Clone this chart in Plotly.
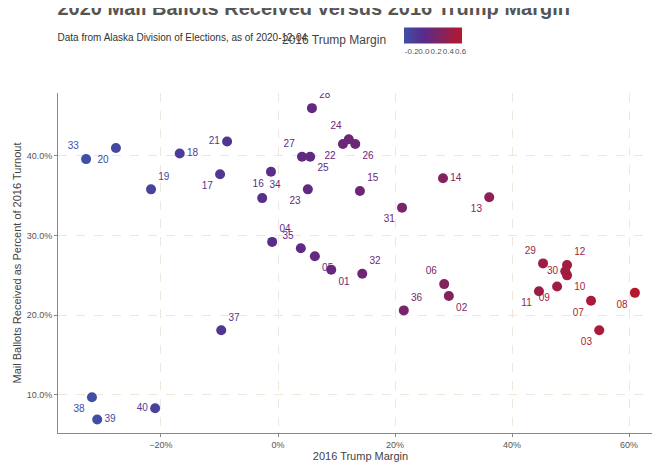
import plotly.graph_objects as go
import plotly.colors as pc

districts = ["28", "24", "22", "26", "27", "25", "21", "18", "20", "33", "17", "16", "19", "34",
             "23", "15", "14", "31", "13", "04", "35", "05", "01", "32", "06", "02", "36", "29",
             "12", "30", "10", "09", "11", "07", "08", "03", "37", "38", "39", "40"]
margin = [0.058, 0.121, 0.111, 0.132, 0.041, 0.055, -0.087, -0.168, -0.277, -0.328, -0.099, -0.012,
          -0.217, -0.027, 0.051, 0.140, 0.282, 0.212, 0.361, -0.010, 0.039, 0.063, 0.091, 0.144,
          0.284, 0.292, 0.215, 0.453, 0.494, 0.491, 0.494, 0.477, 0.446, 0.535, 0.610, 0.549,
          -0.097, -0.318, -0.309, -0.210]
mail_pct = [0.460, 0.421, 0.415, 0.415, 0.399, 0.399, 0.418, 0.403, 0.410, 0.396, 0.377, 0.380,
            0.358, 0.347, 0.358, 0.356, 0.372, 0.335, 0.348, 0.292, 0.284, 0.274, 0.257, 0.252,
            0.239, 0.224, 0.206, 0.265, 0.263, 0.255, 0.250, 0.236, 0.230, 0.218, 0.228, 0.181,
            0.181, 0.097, 0.069, 0.083]
label_pos = ["top right", "top left", "bottom left", "bottom right", "top left", "bottom right",
             "middle left", "middle right", "bottom left", "top left", "bottom left", "bottom left",
             "top right", "top right", "bottom left", "top right", "middle right", "bottom left",
             "bottom left", "top right", "top left", "bottom right", "bottom right", "top right",
             "top left", "bottom right", "top right", "top left", "top right", "middle left",
             "bottom right", "bottom left", "bottom left", "bottom left", "bottom left",
             "bottom left", "top right", "bottom left", "middle right", "middle left"]

scale = [[0, "#3f4fa5"], [0.35, "#5a2b8a"], [1, "#b5182d"]]


def col(v):
    t = (v + 0.33) / 0.95
    return pc.sample_colorscale(scale, [min(max(t, 0), 1)])[0]


fig = go.Figure(go.Scatter(
    x=margin, y=mail_pct, mode="markers+text", text=districts, textposition=label_pos,
    textfont=dict(size=10, color=[col(v) for v in margin]),
    marker=dict(size=10, color=margin, colorscale=scale, cmin=-0.33, cmax=0.62,
                colorbar=dict(orientation="h", x=0.555, y=1.155, xanchor="left", yanchor="middle",
                              lenmode="pixels", len=78, thickness=16,
                              tickvals=[-0.2, 0, 0.2, 0.4, 0.6],
                              ticktext=["-0.2", "0.0", "0.2", "0.4", "0.6"], tickangle=0,
                              tickfont=dict(size=8, color="#555"), outlinewidth=0, ticks="")),
))

fig.update_layout(
    width=660, height=462, plot_bgcolor="white", paper_bgcolor="white",
    font=dict(family="Liberation Sans, Arial", color="#444"),
    margin=dict(l=50, r=5, t=85, b=37, autoexpand=False),
    title=dict(text="<b>2020 Mail Ballots Received versus 2016 Trump Margin</b>"
                    "<br><span style='font-size:10px;color:#333'>Data from Alaska Division of Elections, as of 2020-12-04</span>",
               x=0.075, xanchor="left", y=0.985, yanchor="top", font=dict(size=20, color="#555")),
    showlegend=False,
    annotations=[dict(text="2016 Trump Margin", x=0.545, y=1.155, xref="paper", yref="paper",
                      xanchor="right", yanchor="middle", showarrow=False,
                      font=dict(size=12, color="#444"))],
)
grid = dict(showgrid=True, gridcolor="#f0e6da", griddash="dash", zeroline=False, showline=True,
            linecolor="#888", ticks="outside", tickcolor="#888", ticklen=3,
            tickfont=dict(size=9, color="#555"))
fig.update_xaxes(grid, range=[-0.376, 0.658], tickformat=".0%", dtick=0.2,
                 title=dict(text="2016 Trump Margin", font=dict(size=11), standoff=2))
fig.update_yaxes(grid, range=[0.052, 0.479], dtick=0.1, tickformat=".1%",
                 title=dict(text="Mail Ballots Received as Percent of 2016 Turnout",
                            font=dict(size=11), standoff=2))

fig.write_html("out.html")
